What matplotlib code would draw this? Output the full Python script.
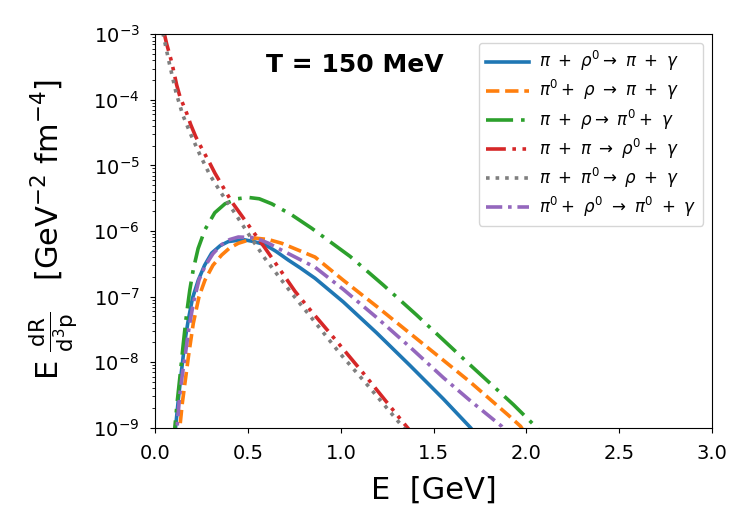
import matplotlib
matplotlib.use("Agg")
import matplotlib.pyplot as plt

# photon rates at T = 150 MeV
E_blue = [0.100, 0.109, 0.125, 0.141, 0.160, 0.177, 0.200, 0.231, 0.265, 0.303, 0.350, 0.393, 0.474, 0.530,
          0.591, 0.650, 0.717, 0.780, 0.861, 1.013, 1.193, 1.373, 1.553, 1.700, 1.720]
R_blue = [6e-10, 1.05e-9, 3.0e-9, 7.6e-9, 2.2e-8, 4.4e-8, 9.5e-8, 1.78e-7, 3.0e-7, 4.6e-7, 6.0e-7, 6.9e-7,
          7.4e-7, 6.9e-7, 6.2e-7, 4.9e-7, 3.6e-7, 2.75e-7, 1.9e-7, 8.3e-8, 2.8e-8, 8.9e-9, 2.75e-9, 1.0e-9,
          8.5e-10]

E_orange = [0.125, 0.132, 0.145, 0.159, 0.180, 0.204, 0.235, 0.267, 0.310, 0.357, 0.400, 0.447, 0.537, 0.610,
            0.681, 0.861, 1.013, 1.193, 1.373, 1.553, 1.697, 1.904, 1.970, 1.990]
R_orange = [6e-10, 1.05e-9, 2.4e-9, 4.8e-9, 1.35e-8, 3.9e-8, 1.0e-7, 1.78e-7, 3.0e-7, 4.3e-7, 5.5e-7, 6.5e-7,
            7.8e-7, 7.4e-7, 6.5e-7, 4.0e-7, 1.78e-7, 7.1e-8, 2.75e-8, 1.07e-8, 5.0e-9, 1.55e-9, 1.05e-9,
            8.5e-10]

E_green = [0.098, 0.105, 0.118, 0.132, 0.150, 0.168, 0.185, 0.204, 0.230, 0.267, 0.320, 0.375, 0.440, 0.501,
           0.560, 0.627, 0.730, 0.843, 1.050, 1.229, 1.410, 1.589, 1.697, 1.931, 2.057, 2.080]
R_green = [5e-10, 1.05e-9, 2.6e-9, 6.0e-9, 1.9e-8, 5.5e-8, 1.25e-7, 2.6e-7, 5.4e-7, 1.05e-6, 1.9e-6, 2.6e-6,
           3.1e-6, 3.25e-6, 3.1e-6, 2.6e-6, 1.8e-6, 1.1e-6, 4.1e-7, 1.5e-7, 5.2e-8, 1.75e-8, 9.1e-9, 2.25e-9,
           1.0e-9, 8.5e-10]

E_red = [0.045, 0.060, 0.087, 0.100, 0.114, 0.132, 0.168, 0.190, 0.217, 0.244, 0.294, 0.321, 0.411, 0.519,
         0.591, 0.753, 0.834, 0.942, 1.121, 1.319, 1.360, 1.380]
R_red = [1.1e-3, 7.2e-4, 3.8e-4, 2.6e-4, 1.7e-4, 1.12e-4, 6.3e-5, 4.2e-5, 2.75e-5, 1.95e-5, 1.07e-5, 7.6e-6,
         2.8e-6, 1.05e-6, 5.5e-7, 1.2e-7, 6.3e-8, 2.75e-8, 6.8e-9, 1.38e-9, 1.0e-9, 8.5e-10]

E_gray = [0.040, 0.0475, 0.073, 0.111, 0.147, 0.192, 0.240, 0.294, 0.360, 0.429, 0.510, 0.591, 0.735, 0.843,
          0.996, 1.149, 1.302, 1.338, 1.360]
R_gray = [1.05e-3, 8.3e-4, 3.8e-4, 1.29e-4, 5.9e-5, 2.9e-5, 1.45e-5, 7.1e-6, 3.6e-6, 1.86e-6, 8.3e-7, 3.8e-7,
          1.12e-7, 4.7e-8, 1.35e-8, 4.3e-9, 1.32e-9, 1.0e-9, 8.5e-10]

E_purple = [0.108, 0.117, 0.130, 0.145, 0.159, 0.180, 0.204, 0.235, 0.267, 0.310, 0.357, 0.400, 0.447, 0.537,
            0.610, 0.681, 0.861, 1.013, 1.193, 1.373, 1.553, 1.697, 1.868, 1.890]
R_purple = [5e-10, 1.05e-9, 3.0e-9, 6.5e-9, 1.2e-8, 3.2e-8, 7.9e-8, 1.8e-7, 2.9e-7, 4.5e-7, 6.2e-7, 7.4e-7,
            8.1e-7, 7.9e-7, 6.5e-7, 5.1e-7, 2.8e-7, 1.29e-7, 4.8e-8, 1.7e-8, 5.8e-9, 2.6e-9, 1.05e-9, 8.5e-10]

labels = [
    r'$\pi\ +\ \rho^0 \rightarrow\ \pi\ +\ \gamma$',
    r'$\pi^0 +\ \rho\ \rightarrow\ \pi\ +\ \gamma$',
    r'$\pi\ +\ \rho \rightarrow\ \pi^0 +\ \gamma$',
    r'$\pi\ +\ \pi\ \rightarrow\ \rho^0 +\ \gamma$',
    r'$\pi\ +\ \pi^0 \rightarrow\ \rho\ +\ \gamma$',
    r'$\pi^0 +\ \rho^0\ \rightarrow\ \pi^0\ +\ \gamma$',
]

fig = plt.figure(figsize=(7.5, 5.25), dpi=100)
ax = fig.add_axes([0.2073, 0.1853, 0.7414, 0.7494])

lw = 2.6
ax.plot(E_blue, R_blue, color='tab:blue', lw=lw, ls='-', label=labels[0])
ax.plot(E_orange, R_orange, color='tab:orange', lw=lw, ls='--', label=labels[1])
ax.plot(E_green, R_green, color='tab:green', lw=lw, ls=(0, (7.5, 2.2, 1, 2.2)), label=labels[2])
ax.plot(E_red, R_red, color='tab:red', lw=lw, ls=(0, (5.5, 1.8, 1, 1.8, 1, 1.8)), label=labels[3])
ax.plot(E_gray, R_gray, color='tab:gray', lw=lw, ls=':', label=labels[4])
ax.plot(E_purple, R_purple, color='tab:purple', lw=lw, ls=(0, (4.5, 1.6, 1, 1.6)), label=labels[5])

ax.set_yscale('log')
ax.set_xlim(0, 3.0)
ax.set_ylim(1e-9, 1e-3)
ax.tick_params(labelsize=14, pad=8)

ax.text(0.359, 0.922, 'T = 150 MeV', transform=ax.transAxes, ha='center', va='center',
        fontsize=18, fontweight='bold')

ax.set_xlabel('E  [GeV]', fontsize=22, labelpad=9)
ax.set_ylabel(r'E $\frac{\rm dR}{\rm d^3p}$   [GeV$^{-2}$ fm$^{-4}$]', fontsize=22)
ax.yaxis.set_label_coords(-0.136, 0.503)

ax.legend(loc='upper right', fontsize=12, handlelength=2.6, handletextpad=0.6, labelspacing=0.3)

fig.savefig('out.png', dpi=100)
